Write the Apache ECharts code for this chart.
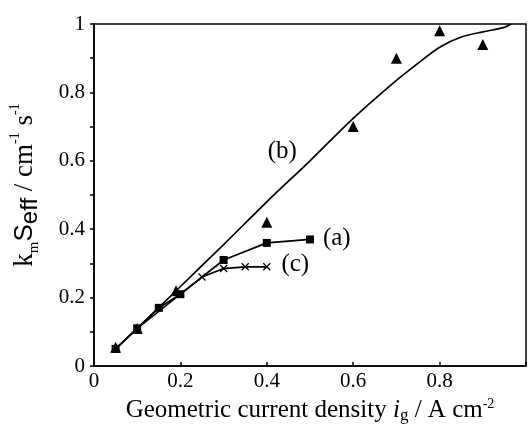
<!DOCTYPE html>
<html>
<head>
<meta charset="utf-8">
<script src="https://cdn.jsdelivr.net/npm/echarts@6/dist/echarts.min.js"></script>
<style>
  html, body { margin: 0; padding: 0; background: #fff; }
  #chart { width: 529px; height: 429px; }
</style>
</head>
<body>
<div id="chart"></div>
<script>
// data
var aX = [0.05, 0.1, 0.15, 0.2, 0.3, 0.4, 0.5];
var aY = [0.05, 0.11, 0.17, 0.21, 0.31, 0.36, 0.37];
var cX = [0.05, 0.1, 0.2, 0.25, 0.3, 0.35, 0.4];
var cY = [0.05, 0.11, 0.21, 0.26, 0.285, 0.29, 0.29];
var bX = [0.05, 0.1, 0.19, 0.4, 0.6, 0.7, 0.8, 0.9];
var bY = [0.055, 0.11, 0.22, 0.42, 0.70, 0.90, 0.98, 0.94];
// fitted curve (b)
var fitX = [0.05, 0.1, 0.19, 0.3, 0.4, 0.5, 0.6, 0.7, 0.75, 0.8, 0.85, 0.9, 0.95, 0.965];
var fitY = [0.05, 0.11, 0.22, 0.355, 0.48, 0.6, 0.724, 0.835, 0.885, 0.932, 0.962, 0.977, 0.99, 1.0];
// curve labels
var tagText = ['(a)', '(b)', '(c)'];
var tagX = [0.562, 0.436, 0.466];
var tagY = [0.372, 0.626, 0.298];

function pairs(xs, ys) {
  return xs.map(function (x, i) { return [x, ys[i]]; });
}

var serif = 'Liberation Serif';
var sans = 'Liberation Sans';
var crossPath = 'path://M0,0L10,10M10,0L0,10';

var chart = echarts.init(document.getElementById('chart'));
chart.setOption({
  backgroundColor: '#fff',
  animation: false,
  grid: {
    left: 93, right: -2, top: 24, bottom: 63,
    show: true, borderColor: '#000', borderWidth: 1.5
  },
  xAxis: {
    type: 'value', min: 0, max: 1, interval: 0.2,
    axisLine: { lineStyle: { color: '#000', width: 1.5 } },
    axisTick: { inside: true, length: 4, lineStyle: { color: '#000', width: 1.5 } },
    splitLine: { show: false },
    axisLabel: {
      color: '#000', fontFamily: serif, fontSize: 21, margin: 5,
      formatter: function (v) { return v >= 1 ? '' : String(v); }
    },
    name: '{n|Geometric current density }{i|i}{s|g}{n| / A cm}{p|-2}',
    nameLocation: 'middle', nameGap: 28,
    nameTextStyle: {
      rich: {
        n: { fontFamily: serif, fontSize: 25, color: '#000' },
        i: { fontFamily: serif, fontSize: 25, fontStyle: 'italic', color: '#000' },
        s: { fontFamily: serif, fontSize: 17, color: '#000', verticalAlign: 'bottom', padding: [10, 0, 0, 0] },
        p: { fontFamily: serif, fontSize: 14, color: '#000', verticalAlign: 'top', padding: [0, 0, 10, 0] }
      }
    }
  },
  yAxis: {
    type: 'value', min: 0, max: 1, interval: 0.2,
    axisLine: { show: true, lineStyle: { color: '#000', width: 1.5 } },
    axisTick: { show: true, length: 4, lineStyle: { color: '#000', width: 1.5 } },
    minorTick: { show: true, splitNumber: 2, length: 4, lineStyle: { color: '#000', width: 1.5 } },
    splitLine: { show: false },
    axisLabel: { color: '#000', fontFamily: serif, fontSize: 21, margin: 9 },
    name: '{n|k}{s|m}{e|S}{se|eff}{n| / cm}{p|-1}{n| s}{p|-1}',
    nameLocation: 'middle', nameGap: 52,
    nameTextStyle: {
      padding: [0, 0, 0, 20],
      rich: {
        n: { fontFamily: serif, fontSize: 27, color: '#000' },
        e: { fontFamily: sans, fontSize: 26, color: '#000' },
        s: { fontFamily: serif, fontSize: 15, color: '#000', verticalAlign: 'bottom', padding: [10, 0, 0, 0] },
        se: { fontFamily: sans, fontSize: 24, color: '#000', verticalAlign: 'bottom', padding: [10, 0, 0, 0] },
        p: { fontFamily: serif, fontSize: 14, color: '#000', verticalAlign: 'top', padding: [0, 0, 10, 0] }
      }
    }
  },
  series: [
    {
      name: '(b) fit', type: 'line', data: pairs(fitX, fitY),
      showSymbol: false, smooth: 0.3,
      lineStyle: { color: '#000', width: 1.7 }
    },
    {
      name: '(b)', type: 'scatter', data: pairs(bX, bY),
      symbol: 'triangle', symbolSize: 11,
      itemStyle: { color: '#000', opacity: 1 }
    },
    {
      name: '(a)', type: 'line', data: pairs(aX, aY),
      symbol: 'rect', symbolSize: 8, showAllSymbol: true,
      lineStyle: { color: '#000', width: 1.7 },
      itemStyle: { color: '#000' }
    },
    {
      name: '(c)', type: 'line', data: pairs(cX, cY),
      symbol: crossPath, symbolSize: 7, showAllSymbol: true,
      lineStyle: { color: '#000', width: 1.7 },
      itemStyle: { color: 'none', borderColor: '#000', borderWidth: 1.3 }
    },
    {
      name: 'tags', type: 'scatter', symbolSize: 0,
      itemStyle: { opacity: 1 },
      data: tagText.map(function (t, i) { return { value: [tagX[i], tagY[i]], name: t }; }),
      label: {
        show: true, position: 'inside', formatter: '{b}',
        color: '#000', fontFamily: serif, fontSize: 25
      }
    }
  ]
});
</script>
</body>
</html>
